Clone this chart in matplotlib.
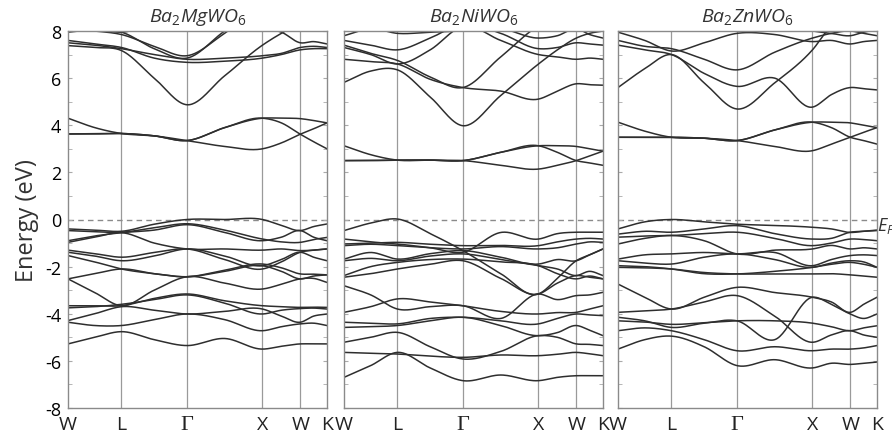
import numpy as np
import matplotlib
matplotlib.use("Agg")
import matplotlib.pyplot as plt

plt.rcParams['font.family'] = ['Open Sans', 'DejaVu Sans']
plt.rcParams['mathtext.fontset'] = 'custom'
plt.rcParams['mathtext.it'] = 'Open Sans:italic'
plt.rcParams['mathtext.rm'] = 'Open Sans'
plt.rcParams['axes.unicode_minus'] = False

# high symmetry path W-L-G-X-W-K (fcc distances)
k_labels = ['W', 'L', 'Γ', 'X', 'W', 'K']
k_nodes = [0.0, 0.7071, 1.5731, 2.5731, 3.0731, 3.4267]

titles = [r'$\mathit{Ba_2MgWO_6}$', r'$\mathit{Ba_2NiWO_6}$', r'$\mathit{Ba_2ZnWO_6}$']

# energies (eV) read at W, mid, L, mid, G, mid, X, mid, W, mid, K
mg_bands = [
    [3.63, 3.63, 3.65, 3.55, 3.35, 3.10, 3.00, 3.25, 3.62, 3.85, 4.10],
    [3.63, 3.64, 3.65, 3.55, 3.35, 3.90, 4.30, 4.10, 3.62, 3.30, 3.00],
    [4.30, 3.90, 3.65, 3.55, 3.35, 3.90, 4.30, 4.30, 4.28, 4.20, 4.10],
    [7.38, 7.30, 7.17, 6.00, 4.87, 6.10, 7.40, 7.90, 8.30, 8.20, 8.10],
    [7.60, 7.45, 7.30, 6.85, 6.67, 6.72, 6.85, 7.00, 7.20, 7.25, 7.25],
    [7.50, 7.40, 7.25, 7.00, 6.80, 6.85, 6.95, 7.05, 7.30, 7.35, 7.30],
    [7.95, 8.05, 7.95, 7.25, 6.85, 8.00, 9.00, 9.00, 9.00, 9.00, 9.00],
    [8.10, 8.00, 7.85, 7.35, 6.95, 7.90, 9.00, 9.00, 9.00, 9.00, 9.00],
    [8.20, 8.10, 7.95, 8.30, 8.60, 8.40, 8.10, 7.95, 7.50, 7.55, 7.45],
    [-0.40, -0.45, -0.50, -0.20, 0.00, 0.00, 0.00, -0.25, -0.47, -0.30, -0.19],
    [-0.47, -0.52, -0.54, -0.35, -0.18, -0.45, -0.83, -0.95, -0.97, -0.85, -0.76],
    [-0.90, -0.70, -0.56, -0.45, -0.22, -0.55, -0.90, -0.75, -0.47, -0.75, -0.90],
    [-0.97, -0.75, -0.56, -1.00, -1.25, -1.25, -1.30, -1.25, -1.32, -1.30, -1.25],
    [-1.30, -1.45, -1.60, -1.40, -1.25, -1.70, -2.10, -1.80, -1.39, -1.30, -1.25],
    [-1.39, -1.55, -1.75, -1.55, -1.25, -1.55, -1.96, -1.70, -1.39, -1.60, -1.75],
    [-1.53, -1.80, -2.10, -2.30, -2.43, -2.15, -1.89, -2.05, -2.31, -2.32, -2.35],
    [-2.52, -2.30, -2.10, -2.30, -2.43, -2.20, -1.96, -2.20, -2.52, -2.40, -2.35],
    [-2.52, -3.10, -3.66, -3.00, -2.43, -2.70, -2.95, -2.75, -2.52, -2.50, -2.67],
    [-3.66, -3.66, -3.66, -3.35, -3.16, -3.45, -3.66, -3.70, -3.73, -3.72, -3.73],
    [-3.75, -3.70, -3.60, -3.40, -3.20, -3.55, -4.01, -3.85, -3.78, -3.76, -3.80],
    [-4.29, -4.00, -3.70, -3.85, -4.01, -3.90, -3.80, -4.10, -4.36, -4.10, -4.01],
    [-4.36, -4.50, -4.50, -4.25, -4.01, -4.25, -4.72, -4.55, -4.43, -4.40, -4.50],
    [-5.28, -5.00, -4.76, -5.10, -5.35, -5.05, -5.50, -5.38, -5.28, -5.28, -5.28],
]

ni_bands = [
    [2.50, 2.50, 2.52, 2.52, 2.50, 2.30, 2.14, 2.30, 2.50, 2.70, 2.90],
    [2.50, 2.51, 2.52, 2.52, 2.50, 2.85, 3.13, 2.85, 2.50, 2.40, 2.30],
    [3.13, 2.75, 2.52, 2.52, 2.50, 2.85, 3.13, 3.13, 3.10, 3.00, 2.90],
    [5.82, 6.30, 6.35, 5.20, 3.98, 5.26, 6.60, 7.20, 7.70, 7.90, 8.00],
    [6.80, 6.70, 6.60, 5.95, 5.60, 5.45, 5.11, 5.45, 5.76, 5.72, 5.70],
    [7.40, 7.05, 6.75, 6.05, 5.60, 6.90, 8.20, 8.50, 8.50, 8.50, 8.50],
    [7.30, 7.00, 6.60, 7.20, 8.20, 7.60, 7.00, 6.90, 6.80, 6.85, 6.80],
    [7.60, 7.40, 7.20, 7.70, 8.30, 7.90, 7.25, 7.30, 7.50, 7.45, 7.40],
    [7.80, 8.10, 7.90, 7.95, 8.00, 8.10, 7.70, 7.80, 8.10, 7.85, 7.70],
    [-0.47, -0.15, 0.02, -0.60, -1.32, -2.30, -3.16, -2.50, -1.75, -1.50, -1.25],
    [-0.83, -0.95, -1.04, -1.20, -1.39, -0.55, -0.83, -0.60, -0.54, -0.54, -0.54],
    [-1.04, -1.00, -0.97, -1.05, -1.11, -1.10, -1.11, -0.95, -0.83, -0.80, -0.83],
    [-1.11, -1.05, -1.11, -1.20, -1.25, -1.15, -1.25, -1.20, -1.04, -0.95, -0.97],
    [-1.68, -1.40, -1.68, -1.45, -1.32, -1.60, -1.89, -1.70, -1.75, -1.50, -1.25],
    [-1.75, -1.65, -1.75, -1.55, -1.46, -1.70, -1.96, -2.10, -2.38, -2.20, -2.38],
    [-2.38, -2.00, -1.82, -1.70, -1.68, -1.80, -1.96, -2.30, -2.52, -2.40, -2.52],
    [-2.45, -2.30, -2.10, -1.90, -1.75, -2.50, -3.16, -2.70, -2.38, -2.45, -2.52],
    [-2.81, -3.20, -3.80, -3.70, -3.66, -4.20, -3.16, -3.40, -3.23, -3.20, -3.09],
    [-3.94, -3.70, -3.37, -3.50, -3.66, -3.90, -4.01, -3.95, -3.94, -3.80, -3.66],
    [-4.36, -4.40, -4.43, -4.20, -4.15, -4.30, -4.43, -4.20, -4.01, -4.05, -4.08],
    [-4.58, -4.55, -4.50, -4.30, -4.15, -4.50, -4.93, -4.80, -4.50, -4.70, -4.93],
    [-5.21, -5.00, -4.79, -5.40, -5.92, -5.60, -4.93, -5.00, -5.28, -5.30, -5.35],
    [-5.64, -5.68, -5.71, -5.80, -5.85, -5.75, -5.78, -5.72, -5.64, -5.70, -5.78],
    [-6.70, -6.20, -5.64, -6.30, -6.84, -6.60, -6.84, -6.70, -6.63, -6.63, -6.63],
]

zn_bands = [
    [3.49, 3.49, 3.49, 3.45, 3.35, 3.10, 2.92, 3.20, 3.49, 3.70, 3.90],
    [3.49, 3.49, 3.49, 3.45, 3.35, 3.80, 4.13, 3.90, 3.49, 3.35, 3.20],
    [4.13, 3.75, 3.49, 3.45, 3.35, 3.80, 4.13, 4.13, 4.10, 4.00, 3.90],
    [5.60, 6.40, 7.00, 5.80, 4.69, 5.80, 7.20, 8.20, 8.50, 8.50, 8.50],
    [7.40, 7.20, 7.00, 6.20, 5.65, 6.00, 4.77, 5.30, 5.60, 5.55, 5.50],
    [7.60, 7.35, 7.25, 6.80, 6.35, 7.10, 7.70, 7.90, 8.00, 7.90, 7.80],
    [7.95, 7.60, 7.15, 7.50, 7.90, 7.85, 7.55, 7.60, 7.45, 7.55, 7.60],
    [8.30, 8.40, 8.00, 8.30, 8.50, 8.30, 8.00, 7.90, 7.80, 7.95, 8.05],
    [-0.40, -0.10, 0.00, -0.10, -0.20, -0.25, -0.33, -0.40, -0.55, -0.50, -0.45],
    [-0.62, -0.50, -0.54, -0.40, -0.26, -0.60, -0.83, -0.80, -0.54, -0.50, -0.47],
    [-0.75, -0.70, -0.68, -0.60, -0.54, -0.80, -1.11, -1.00, -0.83, -0.85, -0.90],
    [-1.04, -0.80, -0.68, -0.90, -1.46, -1.30, -1.25, -1.10, -1.25, -1.20, -1.25],
    [-1.68, -1.50, -1.46, -1.40, -1.46, -1.40, -1.96, -1.70, -1.53, -1.50, -1.53],
    [-1.75, -1.85, -1.89, -1.60, -1.46, -1.70, -2.03, -1.85, -1.75, -1.80, -2.03],
    [-1.96, -2.00, -2.10, -2.30, -2.31, -2.20, -2.03, -1.90, -1.82, -1.90, -2.03],
    [-2.03, -2.05, -2.10, -2.25, -2.31, -2.31, -2.31, -2.30, -2.35, -2.40, -2.45],
    [-2.74, -3.30, -3.80, -3.30, -2.88, -3.10, -3.30, -3.50, -3.94, -3.60, -3.30],
    [-3.94, -3.88, -3.80, -3.50, -3.23, -4.10, -5.21, -4.90, -4.72, -4.90, -5.00],
    [-4.15, -4.30, -4.58, -4.40, -4.30, -5.10, -3.30, -3.60, -4.01, -4.20, -4.01],
    [-4.30, -4.35, -4.45, -4.38, -4.30, -4.30, -4.40, -4.55, -4.72, -4.60, -4.51],
    [-4.72, -4.60, -4.72, -5.10, -5.57, -5.40, -5.57, -5.50, -5.50, -5.45, -5.35],
    [-5.50, -5.10, -4.95, -5.40, -6.20, -5.95, -6.30, -6.10, -6.15, -6.10, -6.05],
]

all_bands = [mg_bands, ni_bands, zn_bands]


def smooth_band(xs, ys, n=30):
    # cubic hermite through the read points
    xs = np.asarray(xs)
    ys = np.asarray(ys)
    m = np.gradient(ys, xs)
    t = np.linspace(0, 1, n)
    h00 = 2 * t**3 - 3 * t**2 + 1
    h10 = t**3 - 2 * t**2 + t
    h01 = -2 * t**3 + 3 * t**2
    h11 = t**3 - t**2
    px, py = [], []
    for i in range(len(xs) - 1):
        h = xs[i + 1] - xs[i]
        px.append(xs[i] + t * h)
        py.append(h00 * ys[i] + h10 * h * m[i] + h01 * ys[i + 1] + h11 * h * m[i + 1])
    return np.concatenate(px), np.concatenate(py)


# sample positions: nodes plus midpoints
kk = []
for i in range(len(k_nodes) - 1):
    kk.append(k_nodes[i])
    kk.append((k_nodes[i] + k_nodes[i + 1]) / 2)
kk.append(k_nodes[-1])

fig = plt.figure(figsize=(8.92, 4.35), dpi=100)
lefts = [68 / 892, 344 / 892, 618 / 892]
for j in range(3):
    ax = fig.add_axes([lefts[j], 26 / 435, 259 / 892, 377 / 435])
    for kx in k_nodes[1:-1]:
        ax.axvline(kx, color='#9a9a9a', lw=0.9, zorder=1)
    ax.axhline(0, color='#8a8a8a', lw=1.0, ls=(0, (4, 3)), zorder=1)
    for band in all_bands[j]:
        bx, by = smooth_band(kk, band)
        ax.plot(bx, by, color='#2e2e2e', lw=1.1, zorder=2)
    ax.set_xlim(k_nodes[0], k_nodes[-1])
    ax.set_ylim(-8, 8)
    ax.set_xticks(k_nodes)
    ax.set_xticklabels(k_labels, fontsize=14)
    for lab in ax.get_xticklabels():
        if lab.get_text() == 'Γ':
            lab.set_fontfamily('Liberation Serif')
            lab.set_fontsize(16)
    ax.set_yticks(np.arange(-8, 9, 2))
    ax.set_yticks(np.arange(-8, 9, 1), minor=True)
    ax.tick_params(axis='y', which='both', direction='in', left=True, right=True,
                   length=3, color='#aaaaaa', labelsize=13, pad=5)
    ax.tick_params(axis='x', length=0, pad=5, colors='#222222')
    if j > 0:
        ax.set_yticklabels([])
    else:
        ax.set_ylabel('Energy (eV)', fontsize=17, color='#333333', labelpad=4)
    for s in ax.spines.values():
        s.set_color('#8a8a8a')
        s.set_linewidth(1.0)
    ax.set_title(titles[j], fontsize=14, pad=7, color='#333333')

fig.text(877 / 892, 1 - 226 / 435, r'$E_F$', fontsize=13, va='center', ha='left', color='#333333')

fig.savefig('out.png', dpi=100)
